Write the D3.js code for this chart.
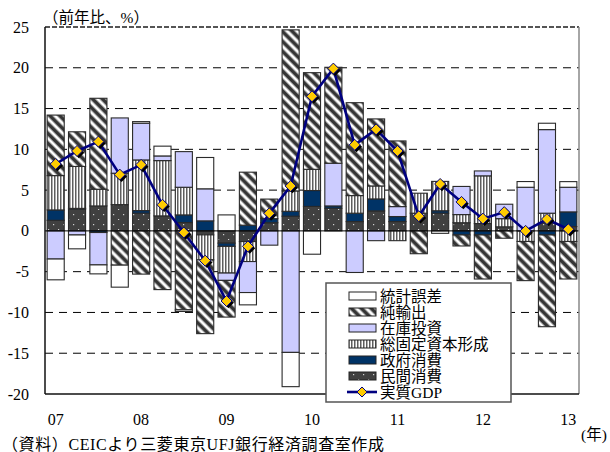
<!DOCTYPE html>
<html>
<head>
<meta charset="utf-8">
<script src="https://cdn.jsdelivr.net/npm/d3@7"></script>
<style>
  html, body { margin: 0; padding: 0; background: #fff; }
  svg { display: block; }
</style>
</head>
<body>
<svg id="chart" width="610" height="452"></svg>
<script>
// Quarterly real GDP growth (y/y, %) and contributions by demand component, 2007Q1–2013Q1
const quarters = [
  "07Q1","07Q2","07Q3","07Q4","08Q1","08Q2","08Q3","08Q4",
  "09Q1","09Q2","09Q3","09Q4","10Q1","10Q2","10Q3","10Q4",
  "11Q1","11Q2","11Q3","11Q4","12Q1","12Q2","12Q3","12Q4","13Q1"
];
const yearLabels = ["07","08","09","10","11","12","13"];
const yTicks = [25, 20, 15, 10, 5, 0, -5, -10, -15, -20];

const privateConsumption = [1.3, 2.66, 3.06, 3.22, 2.17, 1.84, 1.02, -0.49, -1.5, -1.31, 1.0, 1.8, 3.0, 2.78, 1.14, 2.45, 1.14, 2.17, 2.17, 1.0, 0.9, 0.5, 0, 1.0, 0.53];
const governmentConsumption = [1.27, 0.1, -0.2, 0, 0.32, 0, 0.94, 1.23, -0.4, 0.7, 0.5, 0.6, 1.95, 0.28, 1.03, 1.47, 0.62, 0, 0.3, -0.5, -0.5, 0, 0, -0.5, 1.8];
const fixedCapital = [4.21, 5.14, 2.05, 3.85, 6.21, 6.78, 3.39, -3.06, -3.27, -2.45, 0, 2.5, 2.6, 0, 2.16, 1.59, -1.2, 2.45, 3.6, 1.0, 5.85, 1.0, -1.3, 1.17, -1.3];
const inventories = [-3.45, -0.5, -3.97, 6.78, 4.5, 0.57, 4.37, 3.93, -0.9, -3.8, -1.75, -14.9, 0, 5.24, -5.1, -1.2, 1.22, 0, 0, 3.45, 0.6, 1.77, 5.35, 10.25, 3.02];
const netExports = [7.42, 4.25, 11.15, -4.2, -5.3, -7.2, -9.68, -9.05, -4.5, 6.5, 2.4, 19.75, 11.85, 11.76, 11.39, 8.22, 8.05, -2.8, 0, -1.35, -5.4, -0.9, -4.8, -11.25, -4.6];
const statDiscrepancy = [-2.55, -1.7, -1.1, -2.7, 0.2, 1.2, -0.2, 3.84, 1.96, -1.51, 0, -4.2, -2.86, 0, 0, 0, 0, 0, -0.3, 0, 0, 0, 0.7, 0.78, 0.69];
const realGDP = [8.2, 9.8, 10.95, 6.9, 8.1, 3.2, -0.2, -3.65, -8.6, -1.9, 2.15, 5.5, 16.5, 19.9, 10.55, 12.45, 9.8, 1.8, 5.75, 3.55, 1.5, 2.3, 0.0, 1.45, 0.2];

const seriesKeys = ["private", "government", "gfcf", "inventory", "net", "stat"];
const seriesNames = {
  private: "民間消費", government: "政府消費", gfcf: "総固定資本形成",
  inventory: "在庫投資", net: "純輸出", stat: "統計誤差"
};
const seriesFill = {
  private: "url(#pat-dots)", government: "#003366", gfcf: "url(#pat-vert)",
  inventory: "#CCCCFF", net: "url(#pat-diag)", stat: "#FFFFFF"
};

const rows = quarters.map((q, i) => ({
  q,
  private: privateConsumption[i],
  government: governmentConsumption[i],
  gfcf: fixedCapital[i],
  inventory: inventories[i],
  net: netExports[i],
  stat: statDiscrepancy[i]
}));

const svg = d3.select("#chart");
const serif = "'Liberation Serif', 'Times New Roman', 'Noto Sans CJK JP', serif";
const plot = { left: 45, right: 579, top: 27, bottom: 394 };

const x = d3.scaleBand().domain(quarters).range([plot.left, plot.right])
  .paddingInner(0.2).paddingOuter(0.1);
const y = d3.scaleLinear().domain([-20, 25]).range([plot.bottom, plot.top]);

// Fill patterns
const defs = svg.append("defs");
const dots = defs.append("pattern").attr("id", "pat-dots")
  .attr("patternUnits", "userSpaceOnUse").attr("width", 10).attr("height", 10);
dots.append("rect").attr("width", 10).attr("height", 10).attr("fill", "#404040");
dots.append("rect").attr("x", 3).attr("y", 4).attr("width", 1.2).attr("height", 1.2).attr("fill", "#cfcfcf");
dots.append("rect").attr("x", 8).attr("y", 9).attr("width", 1.2).attr("height", 1.2).attr("fill", "#cfcfcf");

const vert = defs.append("pattern").attr("id", "pat-vert")
  .attr("patternUnits", "userSpaceOnUse").attr("width", 3).attr("height", 3);
vert.append("rect").attr("width", 3).attr("height", 3).attr("fill", "#ffffff");
vert.append("rect").attr("width", 1.5).attr("height", 3).attr("fill", "#5e5e5e");

const diag = defs.append("pattern").attr("id", "pat-diag")
  .attr("patternUnits", "userSpaceOnUse").attr("width", 7).attr("height", 7)
  .attr("patternTransform", "rotate(-45)");
diag.append("rect").attr("width", 7).attr("height", 7).attr("fill", "#ffffff");
diag.append("rect").attr("x", 0.8).attr("width", 3.4).attr("height", 7).attr("fill", "#353535");
diag.append("rect").attr("x", 0).attr("width", 0.8).attr("height", 7).attr("fill", "#9a9a9a");
diag.append("rect").attr("x", 4.2).attr("width", 0.8).attr("height", 7).attr("fill", "#9a9a9a");

// Grid lines
svg.append("g").selectAll("line")
  .data(yTicks.filter(v => v !== 0 && v !== 25 && v !== -20))
  .join("line")
  .attr("x1", plot.left).attr("x2", plot.right)
  .attr("y1", d => y(d)).attr("y2", d => y(d))
  .attr("stroke", "#000").attr("stroke-width", 1)
  .attr("stroke-dasharray", "8,6");

// Stacked contribution bars
const stacked = d3.stack().keys(seriesKeys).offset(d3.stackOffsetDiverging)(rows);
svg.append("g").selectAll("g")
  .data(stacked)
  .join("g")
  .attr("fill", s => seriesFill[s.key])
  .selectAll("rect")
  .data(s => s.filter(d => d[0] !== d[1]))
  .join("rect")
  .attr("x", d => x(d.data.q))
  .attr("width", x.bandwidth())
  .attr("y", d => y(Math.max(d[0], d[1])))
  .attr("height", d => Math.abs(y(d[0]) - y(d[1])))
  .attr("stroke", "#2a2a2a").attr("stroke-width", 1.1);

// Frame: zero line, axes and borders
svg.append("line").attr("x1", plot.left).attr("x2", plot.right)
  .attr("y1", y(0)).attr("y2", y(0)).attr("stroke", "#000").attr("stroke-width", 1);
svg.append("line").attr("x1", plot.left).attr("x2", plot.right)
  .attr("y1", y(25)).attr("y2", y(25)).attr("stroke", "#555")
  .attr("stroke-width", 2).attr("stroke-dasharray", "5,2");
svg.append("line").attr("x1", plot.right).attr("x2", plot.right)
  .attr("y1", y(25)).attr("y2", y(-20)).attr("stroke", "#888").attr("stroke-width", 1.5);
svg.append("line").attr("x1", plot.left).attr("x2", plot.right)
  .attr("y1", y(-20)).attr("y2", y(-20)).attr("stroke", "#111").attr("stroke-width", 1.5);
svg.append("line").attr("x1", plot.left).attr("x2", plot.left)
  .attr("y1", y(25)).attr("y2", y(-20)).attr("stroke", "#111").attr("stroke-width", 1.5);

// Real GDP line with diamond markers
const cx = q => x(q) + x.bandwidth() / 2;
const line = d3.line().x((d, i) => cx(quarters[i])).y(d => y(d));
svg.append("path").datum(realGDP)
  .attr("d", line).attr("fill", "none")
  .attr("stroke", "#000080").attr("stroke-width", 2.6).attr("stroke-linejoin", "round");

const diamond = (s) => `M0,${-s}L${s},0L0,${s}L${-s},0Z`;
const markers = svg.append("g");
markers.selectAll("path.shadow").data(realGDP).join("path").attr("class", "shadow")
  .attr("d", diamond(5.5))
  .attr("transform", (d, i) => `translate(${cx(quarters[i]) + 1.8},${y(d) + 1.8})`)
  .attr("fill", "#000");
markers.selectAll("path.mark").data(realGDP).join("path").attr("class", "mark")
  .attr("d", diamond(5.5))
  .attr("transform", (d, i) => `translate(${cx(quarters[i])},${y(d)})`)
  .attr("fill", "#FFCC00").attr("stroke", "#000080").attr("stroke-width", 1);

// Y tick labels
svg.append("g").selectAll("text").data(yTicks).join("text")
  .attr("x", 29).attr("y", d => y(d))
  .attr("text-anchor", "end").attr("dominant-baseline", "central")
  .attr("font-family", serif).attr("font-size", 16).attr("fill", "#000")
  .text(d => d);

// X year labels (first quarter of each year)
svg.append("g").selectAll("text").data(yearLabels).join("text")
  .attr("x", d => cx(d + "Q1")).attr("y", 419)
  .attr("text-anchor", "middle").attr("dominant-baseline", "central")
  .attr("font-family", serif).attr("font-size", 16).attr("fill", "#000")
  .text(d => d);

// Titles and notes
svg.append("text").attr("x", 43).attr("y", 17).attr("dominant-baseline", "central")
  .attr("font-family", serif).attr("font-size", 15.5).text("（前年比、%）");
svg.append("text").attr("x", 581).attr("y", 434).attr("dominant-baseline", "central")
  .attr("font-family", serif).attr("font-size", 15.5).text("(年)");
svg.append("text").attr("x", 2).attr("y", 444).attr("dominant-baseline", "central")
  .attr("font-family", serif).attr("font-size", 16)
  .attr("textLength", 382).attr("lengthAdjust", "spacing")
  .text("（資料）CEICより三菱東京UFJ銀行経済調査室作成");

// Legend
const legend = svg.append("g");
legend.append("rect").attr("x", 326).attr("y", 283).attr("width", 185).attr("height", 119)
  .attr("fill", "#fff").attr("stroke", "#555").attr("stroke-width", 1.5);
const legendKeys = ["stat", "net", "inventory", "gfcf", "government", "private"];
legendKeys.forEach((k, i) => {
  const ly = 296 + i * 16;
  legend.append("rect").attr("x", 349).attr("y", ly - 4).attr("width", 27).attr("height", 8)
    .attr("fill", seriesFill[k]).attr("stroke", "#222").attr("stroke-width", 1);
  legend.append("text").attr("x", 380).attr("y", ly).attr("dominant-baseline", "central")
    .attr("font-family", serif).attr("font-size", 15.5).text(seriesNames[k]);
});
const gy = 296 + 6 * 16;
legend.append("line").attr("x1", 347).attr("x2", 377).attr("y1", gy).attr("y2", gy)
  .attr("stroke", "#000080").attr("stroke-width", 2.6);
legend.append("path").attr("d", diamond(5)).attr("transform", `translate(362,${gy})`)
  .attr("fill", "#FFCC00").attr("stroke", "#000080").attr("stroke-width", 1);
legend.append("text").attr("x", 380).attr("y", gy).attr("dominant-baseline", "central")
  .attr("font-family", serif).attr("font-size", 15.5).text("実質GDP");
</script>
</body>
</html>
